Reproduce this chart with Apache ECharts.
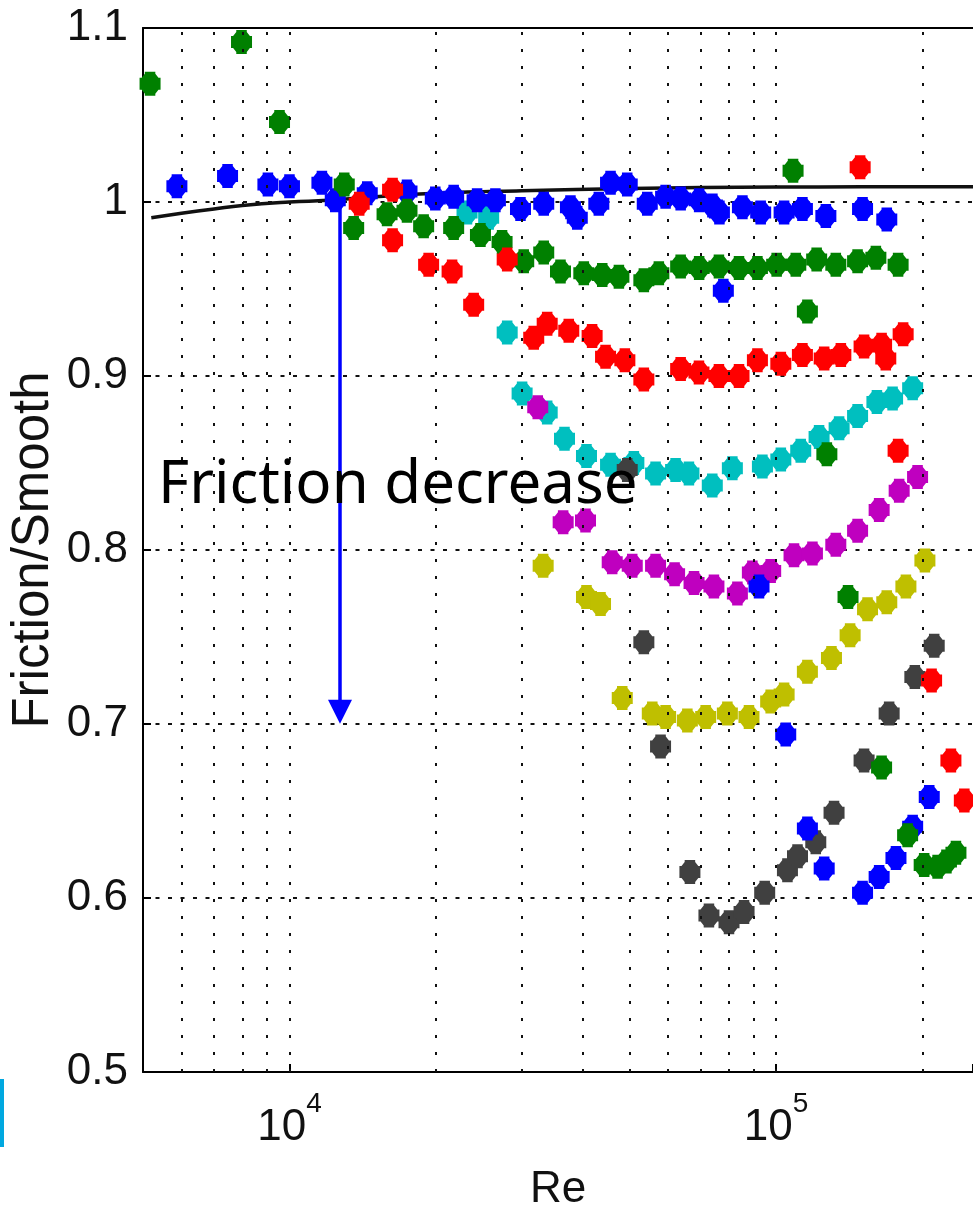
<!DOCTYPE html>
<html><head><meta charset="utf-8">
<script src="https://cdn.jsdelivr.net/npm/echarts/dist/echarts.min.js"></script>
<style>html,body{margin:0;padding:0;background:#fff}#c{width:973px;height:1208px}</style>
</head><body><div id="c"></div>
<script>
// ---- data ----
const blueRe = [5870, 7460, 9030, 10000, 11660, 12420, 14450, 17440, 19940, 21750, 24300, 26500, 29840, 33310, 37800, 39040, 43230, 45700, 49450, 54370, 59300, 63680, 69500, 74000, 76500, 85300, 93000, 103900, 113300, 126600, 150600, 168900, 77930, 92270, 104700, 116000, 125600, 150600, 162900, 176400, 190900, 206500];
const blueVal = [1.009, 1.015, 1.010, 1.009, 1.011, 1.001, 1.005, 1.006, 1.002, 1.003, 1.001, 1.001, 0.996, 0.999, 0.997, 0.991, 0.999, 1.011, 1.010, 0.999, 1.003, 1.002, 1.001, 0.998, 0.994, 0.997, 0.994, 0.994, 0.996, 0.992, 0.996, 0.990, 0.949, 0.779, 0.694, 0.640, 0.617, 0.603, 0.612, 0.623, 0.641, 0.658];
const greenRe = [5170, 7970, 9540, 12960, 13550, 15870, 17440, 18870, 21750, 24690, 27350, 30300, 33310, 36060, 40270, 43940, 47540, 53500, 57430, 63680, 69500, 76320, 83930, 91570, 100300, 109800, 121200, 132700, 147100, 160400, 178200, 108400, 116000, 127200, 140600, 164800, 186400, 201600, 214800, 224000, 234300];
const greenVal = [1.068, 1.092, 1.046, 1.010, 0.985, 0.993, 0.995, 0.986, 0.985, 0.981, 0.977, 0.966, 0.971, 0.960, 0.959, 0.958, 0.957, 0.955, 0.959, 0.963, 0.962, 0.963, 0.962, 0.962, 0.964, 0.964, 0.967, 0.964, 0.966, 0.968, 0.964, 1.018, 0.937, 0.855, 0.773, 0.675, 0.636, 0.619, 0.618, 0.621, 0.626];
const redRe = [13910, 16290, 16290, 19320, 21590, 23910, 28020, 31770, 33860, 37500, 41880, 44630, 48900, 53500, 63680, 69440, 76320, 83930, 91570, 102300, 113300, 125600, 135900, 151700, 164800, 168100, 182500, 148900, 178200, 208800, 228800, 243800];
const redVal = [0.999, 1.007, 0.978, 0.964, 0.960, 0.941, 0.967, 0.922, 0.930, 0.926, 0.923, 0.911, 0.909, 0.898, 0.904, 0.902, 0.900, 0.900, 0.909, 0.907, 0.912, 0.910, 0.912, 0.917, 0.918, 0.910, 0.924, 1.020, 0.857, 0.725, 0.679, 0.656];
const cyanRe = [23170, 25670, 28020, 30070, 33860, 36750, 40780, 45700, 51030, 56550, 62170, 66220, 73960, 81330, 93760, 102300, 112400, 122600, 134800, 147100, 161200, 173600, 190900];
const cyanVal = [0.994, 0.991, 0.925, 0.890, 0.879, 0.864, 0.854, 0.849, 0.850, 0.844, 0.846, 0.844, 0.837, 0.847, 0.848, 0.852, 0.857, 0.865, 0.870, 0.877, 0.885, 0.887, 0.893];
const magentaRe = [32380, 36520, 40590, 46060, 50640, 56550, 61880, 67840, 74540, 83290, 89410, 97500, 108900, 118800, 132700, 147100, 162900, 179100, 195400];
const magentaVal = [0.882, 0.816, 0.817, 0.793, 0.791, 0.791, 0.786, 0.781, 0.779, 0.775, 0.787, 0.788, 0.797, 0.798, 0.803, 0.811, 0.823, 0.834, 0.842];
const yellowRe = [33220, 40780, 43580, 48300, 55680, 59300, 65730, 71680, 79430, 87980, 97500, 103900, 116000, 130000, 142000, 154200, 168900, 184900, 202300];
const yellowVal = [0.791, 0.773, 0.769, 0.715, 0.706, 0.704, 0.702, 0.704, 0.706, 0.704, 0.713, 0.717, 0.730, 0.738, 0.751, 0.766, 0.770, 0.779, 0.794];
const grayRe = [49450, 53500, 57900, 66530, 72800, 80050, 85960, 94780, 105550, 110700, 120700, 131600, 151700, 170800, 192900, 211400];
const grayVal = [0.846, 0.747, 0.687, 0.615, 0.590, 0.586, 0.592, 0.603, 0.616, 0.624, 0.632, 0.649, 0.679, 0.706, 0.727, 0.745];
// smooth-pipe reference curve
const smoothRe = [5200, 6000, 7000, 8000, 10000, 12000, 15000, 20000, 30000, 50000, 70000, 100000, 150000, 254000];
const smoothVal = [0.991, 0.9935, 0.996, 0.998, 1.000, 1.001, 1.003, 1.005, 1.0065, 1.0078, 1.0083, 1.0086, 1.0087, 1.0087];
// axes
const xMin = 5000, xMax = 254000;
const yMin = 0.5, yMax = 1.1, yStep = 0.1;
const xGridTicks = [6000, 7000, 8000, 9000, 10000, 20000, 30000, 40000, 50000, 60000, 70000, 80000, 90000, 100000, 200000];
const xMajorExp = [4, 5];
// annotation
const arrowRe = 12700, arrowFrom = 1.0, arrowTo = 0.707;
const annotationText = 'Friction decrease';

const pts = (re, v) => re.map((r, i) => [r, v[i]]);
const marker = 'path://M5,0H15V2L18,6H20V18H18L15,22V24H5V22L2,18H0V6H2L5,2Z';
const scatter = (name, re, v, color) => ({
  name, type: 'scatter', data: pts(re, v), symbol: marker, symbolSize: [21, 24],
  itemStyle: { color, opacity: 1 }, z: 3, silent: true
});
const tickFont = "'Liberation Sans', Arial, sans-serif";

const chart = echarts.init(document.getElementById('c'), null, { renderer: 'canvas' });
chart.setOption({
  animation: false,
  backgroundColor: '#fff',
  grid: { left: 143, top: 28, right: 0, bottom: 136, containLabel: false, outerBoundsMode: 'none' },
  xAxis: [{
    type: 'log', logBase: 10, min: xMin, max: xMax,
    name: 'Re', nameLocation: 'middle', nameGap: 96, nameMoveOverlap: false,
    nameTextStyle: { fontSize: 44, color: '#111', fontFamily: tickFont },
    axisLine: { show: true, lineStyle: { color: '#000', width: 2 } },
    axisTick: { show: true, inside: true, length: 8, lineStyle: { color: '#000', width: 2 } },
    splitLine: { show: false },
    axisLabel: {
      margin: 18, color: '#111', fontFamily: tickFont, fontSize: 44,
      showMinLabel: true, showMaxLabel: true,
      formatter: function (v) {
        const e = Math.log10(v);
        for (const m of xMajorExp) { if (Math.abs(e - m) < 1e-6) return '{b|10}{s|' + m + '}'; }
        return '';
      },
      rich: {
        b: { fontSize: 44, fontFamily: tickFont, color: '#111', verticalAlign: 'bottom', lineHeight: 60 },
        s: { fontSize: 28, fontFamily: tickFont, color: '#111', verticalAlign: 'top', lineHeight: 26 }
      }
    }
  }, {
    type: 'log', logBase: 10, min: xMin, max: xMax, position: 'top',
    axisLine: { show: true, lineStyle: { color: '#000', width: 2 } },
    axisTick: { show: false }, axisLabel: { show: false }, splitLine: { show: false }
  }],
  yAxis: {
    type: 'value', min: yMin, max: yMax, interval: yStep,
    name: 'Friction/Smooth', nameLocation: 'middle', nameRotate: 90, nameGap: 84, nameMoveOverlap: false,
    nameTextStyle: { fontSize: 51, color: '#111', fontFamily: tickFont },
    axisLine: { show: true, lineStyle: { color: '#000', width: 2 } },
    axisTick: { show: true, inside: true, length: 8, lineStyle: { color: '#000', width: 2 } },
    axisLabel: { margin: 15, color: '#111', fontFamily: tickFont, fontSize: 44 },
    splitLine: { show: true, lineStyle: { color: '#111', width: 2, type: [4, 8.5] } }
  },
  series: [
    {
      name: 'grid', type: 'line', data: [], z: 1, silent: true,
      markLine: {
        silent: true, symbol: 'none', animation: false,
        label: { show: false },
        lineStyle: { color: '#111', width: 2, type: [3, 14] },
        emphasis: { disabled: true },
        data: xGridTicks.map(v => ({ xAxis: v }))
      }
    },
    {
      name: 'smooth', type: 'line', data: pts(smoothRe, smoothVal), smooth: true,
      showSymbol: false, symbol: 'none', z: 2, silent: true,
      lineStyle: { color: '#111', width: 3.5 }
    },
    scatter('c', cyanRe, cyanVal, '#00bfbf'),
    scatter('m', magentaRe, magentaVal, '#bf00bf'),
    scatter('y', yellowRe, yellowVal, '#bfbf00'),
    scatter('k', grayRe, grayVal, '#404040'),
    scatter('b', blueRe, blueVal, '#0000ff'),
    scatter('g', greenRe, greenVal, '#008000'),
    scatter('r', redRe, redVal, '#ff0000'),
    {
      name: 'arrow', type: 'line', data: [], z: 5, silent: true,
      markLine: {
        silent: true, animation: false,
        symbol: ['none', 'triangle'], symbolSize: 24,
        label: { show: false },
        lineStyle: { color: '#0000ff', width: 3.5, type: 'solid' },
        itemStyle: { color: '#0000ff' },
        emphasis: { disabled: true },
        data: [[{ coord: [arrowRe, arrowFrom] }, { coord: [arrowRe, arrowTo] }]]
      }
    }
  ],
  graphic: [
    { type: 'text', z: 100, style: { x: 158, y: 486, text: annotationText, font: '60px "Noto Sans"', fill: '#000', verticalAlign: 'middle', align: 'left' } },
    { type: 'rect', z: 100, shape: { x: 0, y: 1079, width: 4, height: 68 }, style: { fill: '#00a8e0' } }
  ]
});
</script>
</body></html>
